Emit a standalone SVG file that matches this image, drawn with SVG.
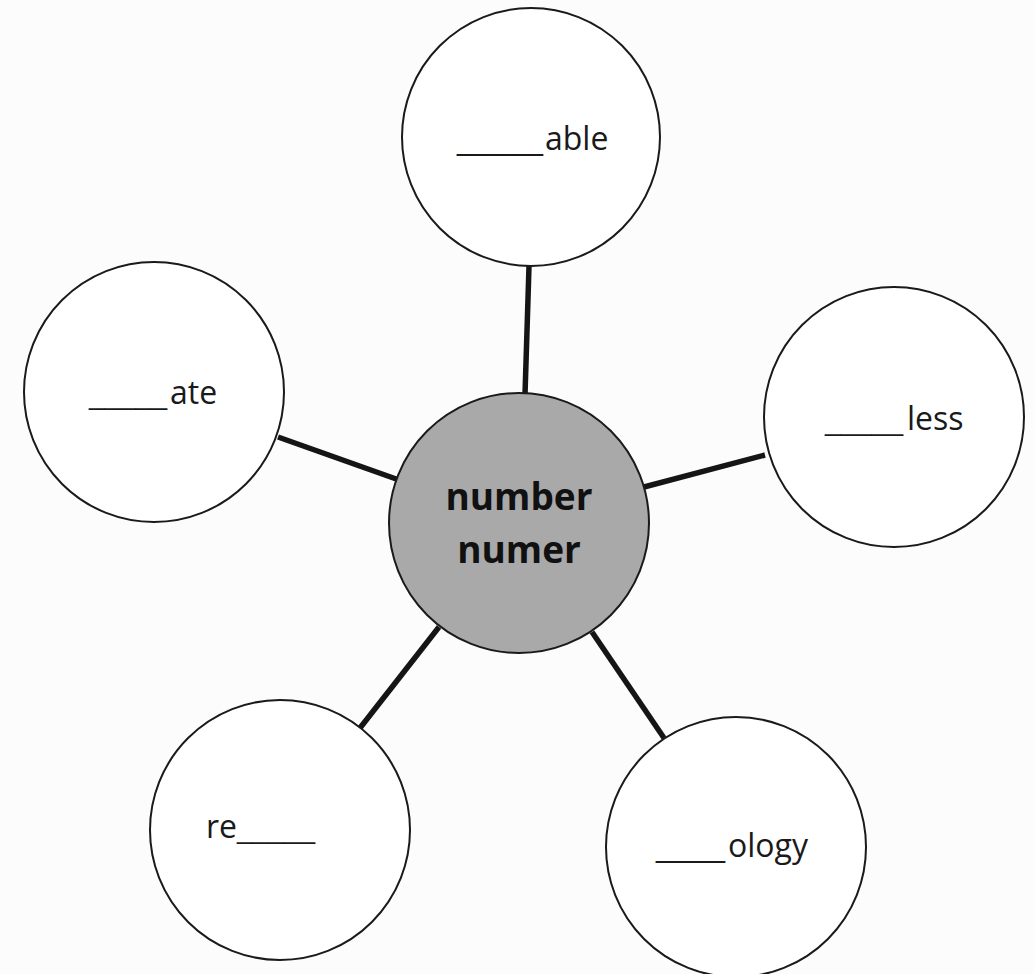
<svg xmlns="http://www.w3.org/2000/svg" width="1034" height="974" viewBox="0 0 1034 974">
<style>
.bg{fill:#fcfcfc}
.node{fill:#ffffff;stroke:#1a1a1a;stroke-width:2}
.hub{fill:#a9a9a9;stroke:#1a1a1a;stroke-width:2}
.conn{stroke:#151515;stroke-width:5.5;stroke-linecap:butt}
.lbl{font-family:"Open Sans","Noto Sans","Liberation Sans",sans-serif;font-size:32px;fill:#1a1a1a}
.blank{font-family:"Liberation Sans",sans-serif;font-size:28px}
.blank30{font-family:"Liberation Sans",sans-serif;font-size:30px}
.hubt{font-family:"Open Sans","Noto Sans","Liberation Sans",sans-serif;font-size:37px;font-weight:bold;fill:#111;text-anchor:middle}
</style>
<rect class="bg" x="0" y="0" width="1034" height="974"/>
<g id="connectors">
<line class="conn" x1="529" y1="266" x2="525" y2="395"/>
<line class="conn" x1="278" y1="437" x2="399" y2="480"/>
<line class="conn" x1="765" y1="455" x2="644" y2="487"/>
<line class="conn" x1="439" y1="627" x2="360" y2="728"/>
<line class="conn" x1="592" y1="632" x2="664" y2="738"/>
</g>
<g id="node-able">
<circle class="node" cx="531" cy="137" r="129"/>
<text class="lbl" x="457" y="150"><tspan class="blank30" textLength="86" lengthAdjust="spacingAndGlyphs">_____</tspan><tspan x="545">able</tspan></text>
</g>
<g id="node-ate">
<circle class="node" cx="154" cy="392" r="130"/>
<text class="lbl" x="89" y="404"><tspan class="blank" textLength="78" lengthAdjust="spacingAndGlyphs">_____</tspan><tspan x="170">ate</tspan></text>
</g>
<g id="node-less">
<circle class="node" cx="894" cy="417" r="130"/>
<text class="lbl" x="825" y="430"><tspan class="blank" textLength="78" lengthAdjust="spacingAndGlyphs">_____</tspan><tspan x="907">less</tspan></text>
</g>
<g id="node-re">
<circle class="node" cx="280" cy="830" r="130"/>
<text class="lbl" x="206" y="838">re<tspan class="blank" x="237" textLength="78" lengthAdjust="spacingAndGlyphs">_____</tspan></text>
</g>
<g id="node-ology">
<circle class="node" cx="736" cy="847" r="130"/>
<text class="lbl" x="656" y="857"><tspan class="blank30" textLength="69" lengthAdjust="spacingAndGlyphs">____</tspan><tspan x="728">ology</tspan></text>
</g>
<g id="node-center">
<circle class="hub" cx="519" cy="523" r="130"/>
<text class="hubt" x="519" y="510">number</text>
<text class="hubt" x="519" y="563">numer</text>
</g>
</svg>
